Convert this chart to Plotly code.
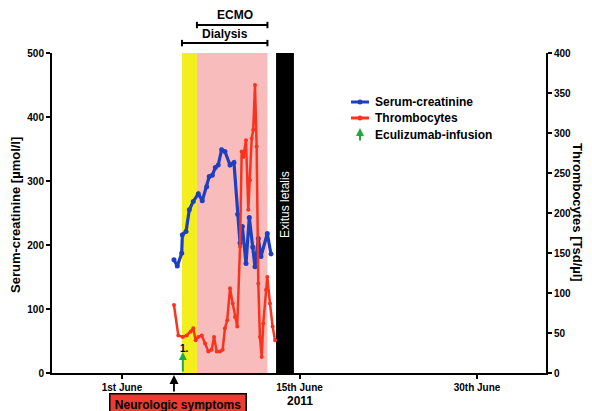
import plotly.graph_objects as go

# ---- data (day of June 2011) ----
CREAT_DAYS = [5.10, 5.36, 5.71, 5.76, 6.05, 6.31, 6.62, 7.02, 7.33, 7.68, 7.88, 8.12, 8.36, 8.59,
              8.86, 9.12, 9.52, 9.83, 10.12, 10.31, 10.49, 10.78, 11.04, 11.31, 11.49, 11.75,
              11.96, 12.46, 12.75]
CREAT = [177, 167, 187, 216, 221, 255, 268, 280, 269, 291, 307, 309, 321, 325, 349, 346, 325,
         329, 248, 203, 229, 171, 243, 197, 166, 210, 182, 218, 186]

THROMBO_DAYS = [5.10, 5.44, 5.79, 6.10, 6.42, 6.62, 6.81, 7.02, 7.29, 7.55, 7.81, 8.07, 8.26,
                8.47, 8.73, 8.94, 9.12, 9.30, 9.52, 9.73, 9.91, 10.09, 10.31, 10.44, 10.57,
                10.78, 10.96, 11.09, 11.23, 11.35, 11.49, 11.62, 11.75, 11.88, 12.02, 12.14,
                12.36, 12.46, 12.67, 12.88, 13.07]
THROMBO = [85, 47, 45, 47, 52, 56, 41, 45, 47, 37, 27, 29, 45, 27, 27, 29, 56, 66, 106, 87, 70,
           58, 158, 277, 270, 291, 204, 241, 293, 304, 360, 283, 112, 45, 20, 62, 104, 120, 87,
           58, 41]

TICK_DAYS = [1, 15, 29]
TICK_LABELS = ["1st June", "15th June", "30th June"]

NEURO_DAY = 5.1
INFUSION_DAY = 5.8
DIALYSIS_START = 5.73
ECMO_START = 6.91
TREATMENT_END = 12.47
DEATH_START = 13.15
DEATH_END = 14.56

BLUE = "#1e3fc0"
RED = "#f8341f"
GREEN = "#1faa3c"
FONT = "Arial, Liberation Sans, sans-serif"

fig = go.Figure()
fig.add_trace(go.Scatter(x=CREAT_DAYS, y=CREAT, mode="lines+markers", name="Serum-creatinine",
                         line=dict(color=BLUE, width=3.2), marker=dict(color=BLUE, size=5),
                         showlegend=False))
fig.add_trace(go.Scatter(x=THROMBO_DAYS, y=THROMBO, mode="lines+markers", name="Thrombocytes",
                         yaxis="y2", line=dict(color=RED, width=2.5),
                         marker=dict(color=RED, size=4), showlegend=False))

shapes = [
    dict(type="rect", xref="x", yref="paper", x0=DIALYSIS_START, x1=ECMO_START, y0=0, y1=1,
         fillcolor="#f4ef1c", line=dict(width=0), layer="below"),
    dict(type="rect", xref="x", yref="paper", x0=ECMO_START, x1=TREATMENT_END, y0=0, y1=1,
         fillcolor="#f8bcbc", line=dict(width=0), layer="below"),
    dict(type="rect", xref="x", yref="paper", x0=DEATH_START, x1=DEATH_END, y0=0, y1=1,
         fillcolor="black", line=dict(width=0), layer="below"),
]

# brackets
def bracket(x0, x1, y):
    out = [dict(type="line", xref="x", yref="paper", x0=x0, x1=x1, y0=y, y1=y,
                line=dict(color="black", width=2))]
    for xx in (x0, x1):
        out.append(dict(type="line", xref="x", yref="paper", x0=xx, x1=xx, y0=y - 0.01,
                        y1=y + 0.01, line=dict(color="black", width=2)))
    return out

shapes += bracket(DIALYSIS_START, TREATMENT_END, 1.031)
shapes += bracket(ECMO_START, TREATMENT_END, 1.0875)

# manual legend
def px_x(p):
    return (p - 52) / 494

def px_y(p):
    return (373 - p) / 320

for color, ypix in ((BLUE, 102), (RED, 118)):
    shapes.append(dict(type="line", xref="paper", yref="paper", x0=px_x(351), x1=px_x(369),
                       y0=px_y(ypix), y1=px_y(ypix), line=dict(color=color, width=3)))
    shapes.append(dict(type="circle", xref="paper", yref="paper", x0=px_x(357.5), x1=px_x(362.5),
                       y0=px_y(ypix + 2.5), y1=px_y(ypix - 2.5), fillcolor=color,
                       line=dict(width=0)))

def note(**kw):
    kw.setdefault("xanchor", "center")
    kw.setdefault("yanchor", "middle")
    kw.setdefault("showarrow", False)
    return kw

annotations = [
    note(text="<b>ECMO</b>", xref="x", yref="paper", x=9.9, y=px_y(15),
         font=dict(size=12, family=FONT, color="black")),
    note(text="<b>Dialysis</b>", xref="x", yref="paper", x=9.15, y=px_y(34),
         font=dict(size=12, family=FONT, color="black")),
    note(text="Exitus letalis", xref="x", yref="paper", x=(DEATH_START + DEATH_END) / 2,
         y=px_y(204), textangle=-90, font=dict(size=12, family=FONT, color="white")),
    note(text="<b>Serum-creatinine [µmol/l]</b>", xref="paper", yref="paper", x=px_x(15),
         y=px_y(215), textangle=-90, font=dict(size=13, family=FONT, color="black")),
    note(text="<b>Thrombocytes [Tsd/µl]</b>", xref="paper", yref="paper", x=px_x(578),
         y=px_y(212), textangle=90, font=dict(size=13, family=FONT, color="black")),
    note(text="<b>2011</b>", xref="x", yref="paper", x=15, y=px_y(401),
         font=dict(size=12, family=FONT, color="black")),
    note(text="<b>Neurologic symptoms</b>", xref="paper", yref="paper", x=px_x(177.5),
         y=px_y(404), bgcolor="#ec3b30", bordercolor="black", borderwidth=1.5,
         borderpad=3, width=129, font=dict(size=12, family=FONT, color="black")),
    dict(text="", xref="x", yref="paper", x=NEURO_DAY, y=px_y(375), ax=0, ay=18,
         showarrow=True, arrowhead=2, arrowsize=1, arrowwidth=1.8, arrowcolor="black"),
    dict(text="", xref="x", yref="y", x=INFUSION_DAY, y=33, ax=0, ay=21,
         showarrow=True, arrowhead=2, arrowsize=0.8, arrowwidth=2, arrowcolor=GREEN),
    note(text="<b>1.</b>", xref="x", yref="y", x=INFUSION_DAY + 0.1, y=39,
         font=dict(size=10, family=FONT, color="black")),
    dict(text="", xref="paper", yref="paper", x=px_x(360), y=px_y(128), ax=0, ay=14,
         showarrow=True, arrowhead=2, arrowsize=0.8, arrowwidth=2, arrowcolor=GREEN),
]
for label, ypix in (("Serum-creatinine", 102), ("Thrombocytes", 118),
                    ("Eculizumab-infusion", 135)):
    annotations.append(note(text="<b>" + label + "</b>", xref="paper", yref="paper",
                            x=px_x(373), y=px_y(ypix), xanchor="left",
                            font=dict(size=12, family=FONT, color="black")))

axis_font = dict(size=10, family=FONT, color="black", weight="bold")
fig.update_layout(
    width=592, height=411,
    margin=dict(l=52, r=46, t=53, b=38),
    paper_bgcolor="white", plot_bgcolor="white",
    showlegend=False,
    xaxis=dict(range=[-4.52, 34.44], tickvals=TICK_DAYS, ticktext=TICK_LABELS,
               showline=True, linecolor="black", linewidth=2, ticks="outside", ticklen=4,
               tickwidth=1.5, tickcolor="black", showgrid=False, zeroline=False,
               tickfont=axis_font),
    yaxis=dict(range=[0, 500], tickvals=[0, 100, 200, 300, 400, 500], showline=True,
               linecolor="black", linewidth=2, ticks="outside", ticklen=4, tickwidth=1.5,
               tickcolor="black", showgrid=False, zeroline=False, tickfont=axis_font),
    yaxis2=dict(range=[0, 400], tickvals=[0, 50, 100, 150, 200, 250, 300, 350, 400],
                overlaying="y", side="right", showline=True, linecolor="black", linewidth=2,
                ticks="outside", ticklen=4, tickwidth=1.5, tickcolor="black", showgrid=False,
                zeroline=False, tickfont=axis_font),
    shapes=shapes,
    annotations=annotations,
)

fig.write_html("out.html", config={"displayModeBar": False},
               post_script="document.body.style.margin='0';document.body.style.overflow='hidden';")
